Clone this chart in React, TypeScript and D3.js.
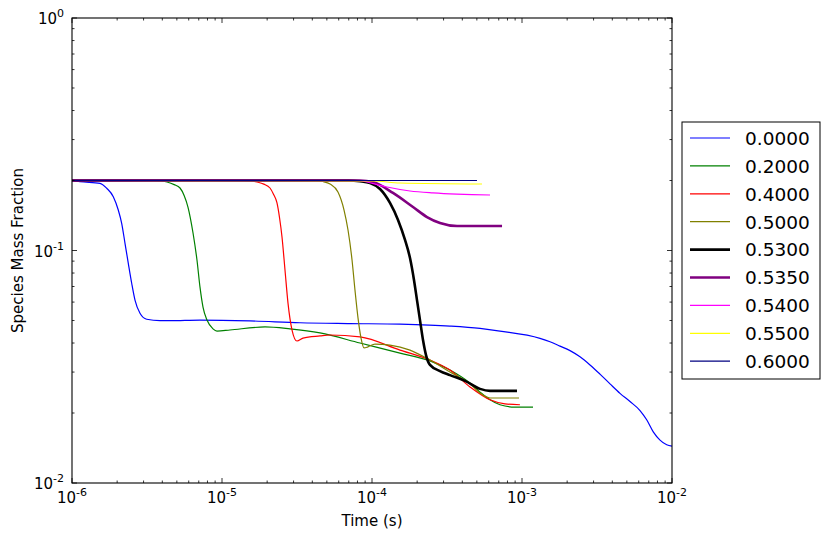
import * as d3 from 'd3';
import { useEffect, useRef } from 'react';

const width = 830;
const height = 539;
const plot = { left: 72, top: 18, right: 672, bottom: 483 };

const labels = ['0.0000', '0.2000', '0.4000', '0.5000', '0.5300', '0.5350', '0.5400', '0.5500', '0.6000'];
const colors = ['#0000ff', '#008000', '#ff0000', '#808000', '#000000', '#800080', '#ff00ff', '#ffff00', '#000080'];
const lineWidths = [1.2, 1.2, 1.2, 1.2, 2.6, 2.6, 1.2, 1.2, 1.2];

type Pt = [number, number];

// [time (s), mass fraction]
const run0000: Pt[] = [
    [1e-6, 0.2], [1.131e-6, 0.1977], [1.537e-6, 0.1945], [1.704e-6, 0.1852], [1.885e-6, 0.1703],
    [2.035e-6, 0.1493], [2.144e-6, 0.1309], [2.256e-6, 0.1074], [2.373e-6, 0.0881], [2.5e-6, 0.0723],
    [2.63e-6, 0.0612], [2.84e-6, 0.0537], [3.148e-6, 0.0506], [3.86e-6, 0.0499], [4.5e-6, 0.0499],
    [7.13e-6, 0.0502], [1.537e-5, 0.0498], [3.31e-5, 0.0489], [7.13e-5, 0.0485], [1.537e-4, 0.0482],
    [3.31e-4, 0.0473], [5.25e-4, 0.0462], [7.13e-4, 0.045], [1.318e-3, 0.0419], [1.537e-3, 0.0405],
    [1.792e-3, 0.0388], [2.09e-3, 0.0371], [2.436e-3, 0.0349], [2.84e-3, 0.0322], [3.31e-3, 0.0294],
    [3.86e-3, 0.0267], [4.5e-3, 0.0243], [5.25e-3, 0.0224], [6.12e-3, 0.0205], [6.78e-3, 0.0187],
    [7.5e-3, 0.0166], [8.32e-3, 0.0153], [9.22e-3, 0.0146], [1e-2, 0.0144],
];
const run2000: Pt[] = [
    [1e-6, 0.2], [3.5e-6, 0.2], [3.86e-6, 0.1995], [4.3e-6, 0.197], [4.8e-6, 0.192], [5.25e-6, 0.1857],
    [5.6e-6, 0.172], [5.93e-6, 0.1538], [6.41e-6, 0.1189], [6.81e-6, 0.091], [7.13e-6, 0.0697],
    [7.47e-6, 0.0571], [7.94e-6, 0.0502], [8.71e-6, 0.046], [9.26e-6, 0.045], [1.129e-5, 0.0455],
    [1.935e-5, 0.0469], [2.84e-5, 0.046], [4.5e-5, 0.0442], [8.32e-5, 0.04], [1.537e-4, 0.0362],
    [2.436e-4, 0.0335], [3.31e-4, 0.0306], [4.5e-4, 0.0269], [5.25e-4, 0.0246], [6.12e-4, 0.0228],
    [7.13e-4, 0.0217], [8.98e-4, 0.0212], [1.184e-3, 0.0212],
];
const run4000: Pt[] = [
    [1e-6, 0.2], [1.4e-5, 0.2], [1.537e-5, 0.1995], [1.711e-5, 0.197], [1.9e-5, 0.193], [2.089e-5, 0.1857],
    [2.2e-5, 0.175], [2.326e-5, 0.1601], [2.42e-5, 0.138], [2.512e-5, 0.1143], [2.63e-5, 0.0824],
    [2.754e-5, 0.0594], [2.93e-5, 0.0455], [3.162e-5, 0.0408], [3.467e-5, 0.042], [4.5e-5, 0.0429],
    [5.25e-5, 0.0433], [8.32e-5, 0.0425], [1.537e-4, 0.0373], [2.436e-4, 0.0338], [3.31e-4, 0.0306],
    [4.5e-4, 0.0259], [6.12e-4, 0.0228], [7.7e-4, 0.0219], [9.69e-4, 0.0217],
];
const run5000: Pt[] = [
    [1e-6, 0.2], [4.2e-5, 0.2], [4.7e-5, 0.198], [5.25e-5, 0.1932], [5.93e-5, 0.1785], [6.51e-5, 0.1493],
    [6.92e-5, 0.1225], [7.36e-5, 0.091], [7.7e-5, 0.0676], [8.07e-5, 0.0512], [8.45e-5, 0.042],
    [8.85e-5, 0.0381], [9.4e-5, 0.0385], [1.047e-4, 0.0396], [1.318e-4, 0.0392], [1.792e-4, 0.0373],
    [2.436e-4, 0.0338], [3.31e-4, 0.03], [4.5e-4, 0.0267], [5.25e-4, 0.0244], [6.12e-4, 0.0232],
    [9.55e-4, 0.0232],
];
const run5300: Pt[] = [
    [1e-6, 0.2], [7.0e-5, 0.2], [8.3e-5, 0.1985], [9.7e-5, 0.1951], [1.131e-4, 0.1838], [1.318e-4, 0.1601],
    [1.491e-4, 0.1353], [1.66e-4, 0.111], [1.792e-4, 0.0928], [1.905e-4, 0.0747], [1.995e-4, 0.0612],
    [2.089e-4, 0.0502], [2.188e-4, 0.0412], [2.291e-4, 0.0355], [2.436e-4, 0.0322], [2.84e-4, 0.0303],
    [3.31e-4, 0.0291], [4.17e-4, 0.0275], [5.25e-4, 0.0254], [6.12e-4, 0.0249], [9.26e-4, 0.0249],
];
const run5350: Pt[] = [
    [1e-6, 0.2], [8.32e-5, 0.2], [1.016e-4, 0.197], [1.38e-4, 0.1768], [1.877e-4, 0.1538],
    [2.326e-4, 0.1393], [2.84e-4, 0.1313], [3.69e-4, 0.1274], [7.36e-4, 0.1274],
];
const run5400: Pt[] = [
    [1e-6, 0.2], [8.32e-5, 0.2], [9.26e-5, 0.197], [1.259e-4, 0.1875], [1.792e-4, 0.1803],
    [2.551e-4, 0.1768], [6.12e-4, 0.1733],
];
const run5500: Pt[] = [
    [1e-6, 0.2], [1.016e-4, 0.199], [1.537e-4, 0.1951], [5.41e-4, 0.1932],
];
const run6000: Pt[] = [
    [1e-6, 0.2], [5.01e-4, 0.2],
];

const runs = [run0000, run2000, run4000, run5000, run5300, run5350, run5400, run5500, run6000];

const xDecades = [-6, -5, -4, -3, -2];
const yDecades = [-2, -1, 0];

function minorTicks(decades: number[]) {
    const out: number[] = [];
    decades.slice(0, -1).forEach((e) => {
        for (let k = 2; k < 10; k++) out.push(k * Math.pow(10, e));
    });
    return out;
}

export default function App() {
    const ref = useRef<SVGSVGElement>(null);

    useEffect(() => {
        if (!ref.current) return;
        const svg = d3.select(ref.current);
        svg.selectAll('*').remove();

        const x = d3.scaleLog().domain([1e-6, 1e-2]).range([plot.left, plot.right]);
        const y = d3.scaleLog().domain([1e-2, 1]).range([plot.bottom, plot.top]);

        svg.append('rect').attr('width', width).attr('height', height).attr('fill', '#fff');

        const line = d3
            .line<Pt>()
            .x((d) => x(d[0]))
            .y((d) => y(d[1]))
            .curve(d3.curveMonotoneX);

        const lines = svg.append('g');
        runs.forEach((run, i) => {
            lines
                .append('path')
                .attr('d', line(run))
                .attr('fill', 'none')
                .attr('stroke', colors[i])
                .attr('stroke-width', lineWidths[i])
                .attr('stroke-linejoin', 'round');
        });

        // ticks, pointing inwards on all four sides
        const ticks = svg.append('g').attr('stroke', '#000').attr('stroke-width', 0.8);
        const majorLen = 5;
        const minorLen = 2.5;
        const xMajor = xDecades.map((e) => Math.pow(10, e));
        const yMajor = yDecades.map((e) => Math.pow(10, e));
        [
            ...xMajor.map((v) => ({ v, len: majorLen })),
            ...minorTicks(xDecades).map((v) => ({ v, len: minorLen })),
        ].forEach(({ v, len }) => {
            const px = x(v);
            ticks.append('line').attr('x1', px).attr('x2', px).attr('y1', plot.bottom).attr('y2', plot.bottom - len);
            ticks.append('line').attr('x1', px).attr('x2', px).attr('y1', plot.top).attr('y2', plot.top + len);
        });
        [
            ...yMajor.map((v) => ({ v, len: majorLen })),
            ...minorTicks(yDecades).map((v) => ({ v, len: minorLen })),
        ].forEach(({ v, len }) => {
            const py = y(v);
            ticks.append('line').attr('x1', plot.left).attr('x2', plot.left + len).attr('y1', py).attr('y2', py);
            ticks.append('line').attr('x1', plot.right).attr('x2', plot.right - len).attr('y1', py).attr('y2', py);
        });

        svg.append('rect')
            .attr('x', plot.left)
            .attr('y', plot.top)
            .attr('width', plot.right - plot.left)
            .attr('height', plot.bottom - plot.top)
            .attr('fill', 'none')
            .attr('stroke', '#000')
            .attr('stroke-width', 1.1);

        const font = 'DejaVu Sans, sans-serif';
        const powLabel = (g: d3.Selection<SVGTextElement, unknown, null, undefined>, e: number) => {
            g.append('tspan').text('10');
            g.append('tspan').attr('font-size', 11).attr('dy', -7).text(String(e));
        };

        xDecades.forEach((e) => {
            const t = svg
                .append('text')
                .attr('x', x(Math.pow(10, e)))
                .attr('y', 503)
                .attr('text-anchor', 'middle')
                .attr('font-family', font)
                .attr('font-size', 15);
            powLabel(t, e);
        });
        yDecades.forEach((e) => {
            const t = svg
                .append('text')
                .attr('x', 64)
                .attr('y', y(Math.pow(10, e)) + 6)
                .attr('text-anchor', 'end')
                .attr('font-family', font)
                .attr('font-size', 15);
            powLabel(t, e);
        });

        svg.append('text')
            .attr('x', (plot.left + plot.right) / 2)
            .attr('y', 526)
            .attr('text-anchor', 'middle')
            .attr('font-family', font)
            .attr('font-size', 15)
            .text('Time (s)');
        svg.append('text')
            .attr('transform', `translate(23,${(plot.top + plot.bottom) / 2}) rotate(-90)`)
            .attr('text-anchor', 'middle')
            .attr('font-family', font)
            .attr('font-size', 15)
            .text('Species Mass Fraction');

        // legend
        const legend = svg.append('g').attr('transform', 'translate(682,122)');
        legend
            .append('rect')
            .attr('width', 138)
            .attr('height', 257)
            .attr('fill', '#fff')
            .attr('stroke', '#000')
            .attr('stroke-width', 1);
        labels.forEach((label, i) => {
            const ry = 16 + i * 27.9;
            legend
                .append('line')
                .attr('x1', 8)
                .attr('x2', 48)
                .attr('y1', ry)
                .attr('y2', ry)
                .attr('stroke', colors[i])
                .attr('stroke-width', lineWidths[i]);
            legend
                .append('text')
                .attr('x', 63)
                .attr('y', ry + 6.8)
                .attr('font-family', font)
                .attr('font-size', 18.5)
                .text(label);
        });
    }, []);

    return (
        <svg
            ref={ref}
            width={width}
            height={height}
            style={{ position: 'absolute', left: 0, top: 0 }}
        />
    );
}
